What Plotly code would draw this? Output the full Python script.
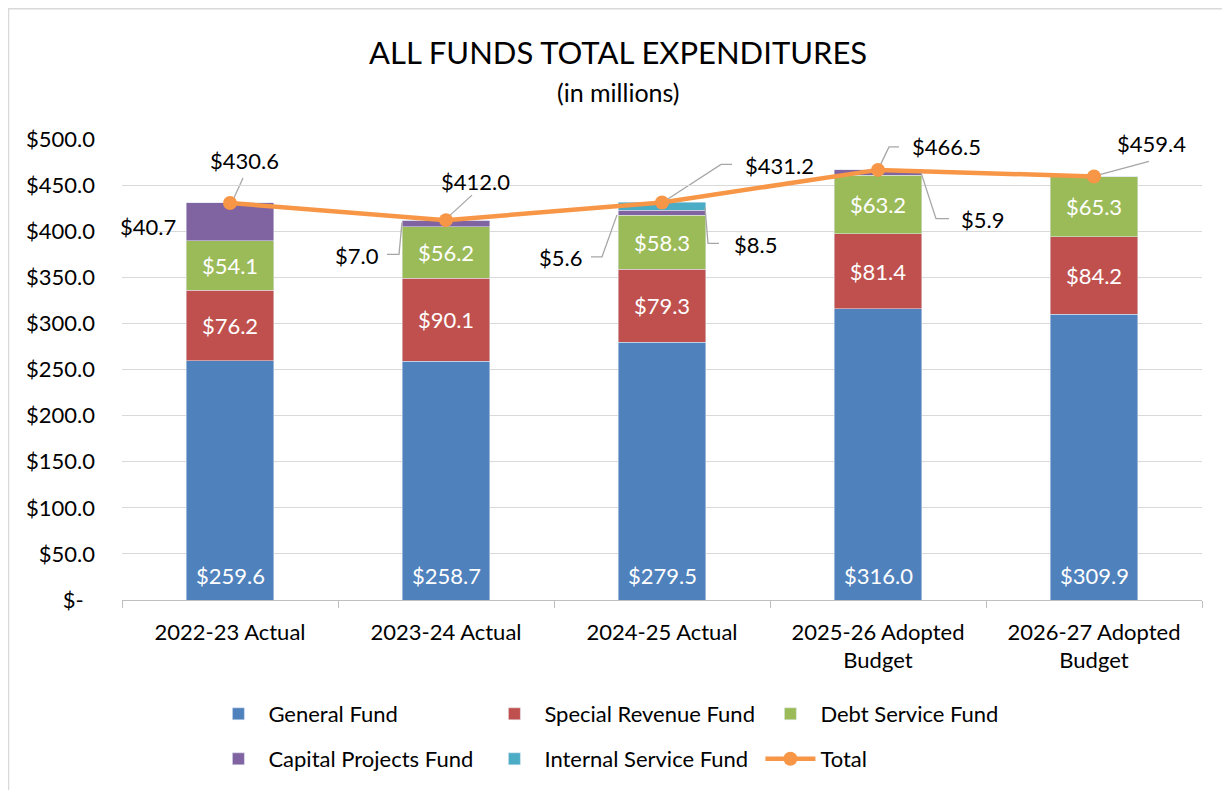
import plotly.graph_objects as go

# ---------------- data ----------------
categories = ["2022-23 Actual", "2023-24 Actual", "2024-25 Actual",
              "2025-26 Adopted<br>Budget", "2026-27 Adopted<br>Budget"]
general_fund = [259.6, 258.7, 279.5, 316.0, 309.9]
special_revenue = [76.2, 90.1, 79.3, 81.4, 84.2]
debt_service = [54.1, 56.2, 58.3, 63.2, 65.3]
capital_projects = [40.7, 7.0, 5.6, 5.9, 0.0]
internal_service = [0.0, 0.0, 8.5, 0.0, 0.0]
total = [430.6, 412.0, 431.2, 466.5, 459.4]

y_tick_vals = [0, 50, 100, 150, 200, 250, 300, 350, 400, 450, 500]
y_tick_text = ["$-\u00a0\u00a0", "$50.0", "$100.0", "$150.0", "$200.0", "$250.0",
               "$300.0", "$350.0", "$400.0", "$450.0", "$500.0"]

# ---------------- style ----------------
FONT = "Lato"
LBL = 22
C_GEN, C_SPR, C_DEBT, C_CAP, C_INT, C_TOT = "#4F81BD", "#C0504D", "#9BBB59", "#8064A2", "#4BACC6", "#F79646"
LEADER = "#A6A6A6"


def money(v):
    return f"${v:.1f}"


fig = go.Figure()
fig.add_bar(name="General Fund", x=categories, y=general_fund, marker_color=C_GEN,
            legend="legend")
fig.add_bar(name="Special Revenue Fund", x=categories, y=special_revenue, marker_color=C_SPR,
            text=[money(v) for v in special_revenue], textposition="inside",
            insidetextanchor="middle", constraintext="none",
            textfont=dict(color="white", size=LBL, family=FONT), legend="legend")
fig.add_bar(name="Debt Service Fund", x=categories, y=debt_service, marker_color=C_DEBT,
            text=[money(v) for v in debt_service], textposition="inside",
            insidetextanchor="middle", constraintext="none",
            textfont=dict(color="white", size=LBL, family=FONT), legend="legend")
fig.add_bar(name="Capital Projects Fund", x=categories, y=capital_projects, marker_color=C_CAP,
            legend="legend2")
fig.add_bar(name="Internal Service Fund", x=categories, y=internal_service, marker_color=C_INT,
            legend="legend2")
fig.add_scatter(name="Total", x=categories, y=total, mode="lines+markers",
                line=dict(color=C_TOT, width=4.5), marker=dict(size=14, color=C_TOT),
                legend="legend2")

annotations = []
shapes = []

# General fund labels at the base of the bars
for i, c in enumerate(categories):
    annotations.append(dict(x=c, y=0, xref="x", yref="y", text=money(general_fund[i]),
                            showarrow=False, yshift=25,
                            font=dict(color="white", size=LBL, family=FONT)))

# Total labels: (index, text dx, text dy, leader path in px relative to point)
total_callouts = [
    (0, 14, 42, "M 3,3 L 13,25"),
    (1, 29, 39, "M 2,3 L 26,25"),
    (2, 117, 37, "M 2,1 L 59,38 L 70,38"),
    (3, 68, 23, "M 1,2 L 11,23 L 21,23"),
    (4, 57, 33, "M 3,1 L 55,15"),
]
for i, dx, dy, path in total_callouts:
    annotations.append(dict(x=categories[i], y=total[i], xref="x", yref="y",
                            text=money(total[i]), showarrow=False, xshift=dx, yshift=dy,
                            font=dict(color="black", size=LBL, family=FONT)))
    shapes.append(dict(type="path", xref="x", yref="y", xsizemode="pixel", ysizemode="pixel",
                       xanchor=i, yanchor=total[i], path=path,
                       line=dict(color=LEADER, width=1.3), layer="below"))

# Small segment labels (series values, index, text dx, text dy, leader path)
base_cap = [g + s + d for g, s, d in zip(general_fund, special_revenue, debt_service)]
base_int = [b + c for b, c in zip(base_cap, capital_projects)]
segment_callouts = [
    (capital_projects, base_cap, 0, -82, -5, None),
    (capital_projects, base_cap, 1, -89, -32, "M -44,1 L -47,-31 L -59,-31"),
    (capital_projects, base_cap, 2, -102, -45, "M -45,-2 L -60,-44 L -71,-44"),
    (internal_service, base_int, 2, 93, -38, "M 43,-1 L 46,-37 L 57,-37"),
    (capital_projects, base_cap, 3, 104, -47, "M 43,0 L 58,-46 L 71,-46"),
]
for series, base, i, dx, dy, path in segment_callouts:
    ymid = base[i] + series[i] / 2
    annotations.append(dict(x=categories[i], y=ymid, xref="x", yref="y",
                            text=money(series[i]), showarrow=False, xshift=dx, yshift=dy,
                            font=dict(color="black", size=LBL, family=FONT)))
    if path:
        shapes.append(dict(type="path", xref="x", yref="y", xsizemode="pixel",
                           ysizemode="pixel", xanchor=i, yanchor=ymid, path=path,
                           line=dict(color=LEADER, width=1.3), layer="above"))

# Title
annotations.append(dict(x=0.4597, y=1.188, xref="paper", yref="paper",
                        xanchor="center", yanchor="middle",
                        text="ALL FUNDS TOTAL EXPENDITURES", showarrow=False,
                        font=dict(size=31, color="black", family=FONT)))
annotations.append(dict(x=0.459, y=1.1017, xref="paper", yref="paper",
                        xanchor="center", yanchor="middle",
                        text="(in millions)", showarrow=False,
                        font=dict(size=25, color="black", family=FONT)))

# Chart border (left/top visible; right/bottom lie outside the picture)
shapes.append(dict(type="rect", xref="paper", yref="paper", x0=-0.1051, x1=1.06,
                   y0=-0.45, y1=1.2825, line=dict(color="#D9D9D9", width=1.5),
                   layer="below"))

legend_common = dict(orientation="h", xanchor="left", yanchor="middle",
                     font=dict(size=LBL, family=FONT, color="black"),
                     itemwidth=50, entrywidthmode="pixels", entrywidth=211,
                     traceorder="normal", bgcolor="rgba(0,0,0,0)")

# page body adds an 8px offset, so the figure is sized to end at the window edge
fig.update_layout(
    width=1222, height=782,
    margin=dict(l=114, r=28, t=131, b=189),
    paper_bgcolor="white", plot_bgcolor="white",
    font=dict(family=FONT, size=LBL, color="black"),
    barmode="stack", bargap=0.593,
    showlegend=True,
    legend=dict(x=0.08, y=-0.2446, **legend_common),
    legend2=dict(x=0.08, y=-0.342, **legend_common),
    annotations=annotations, shapes=shapes,
    xaxis=dict(type="category", showgrid=False, showline=True, linecolor="#BFBFBF",
               linewidth=1.3, ticks="outside", tickson="boundaries", ticklen=7,
               tickcolor="#BFBFBF", tickfont=dict(size=LBL, family=FONT, color="black"),
               ticklabelstandoff=12, range=[-0.5, 4.5]),
    yaxis=dict(range=[0, 500], tickvals=y_tick_vals, ticktext=y_tick_text,
               showgrid=True, gridcolor="#D9D9D9", gridwidth=1.3, zeroline=False,
               showline=False, ticks="", tickfont=dict(size=LBL, family=FONT, color="black"),
               ticklabelstandoff=26),
)

fig.write_html("out.html")
